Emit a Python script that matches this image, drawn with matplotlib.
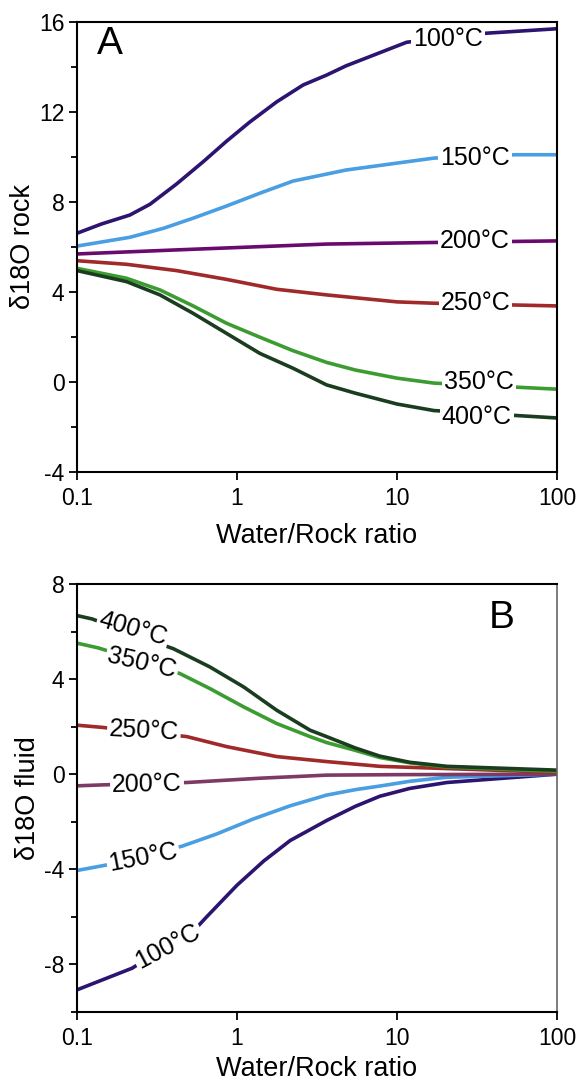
import matplotlib
matplotlib.use("Agg")
import matplotlib.pyplot as plt
from matplotlib.ticker import FixedLocator, NullLocator

plt.rcParams["font.family"] = ["Liberation Sans", "DejaVu Sans"]
plt.rcParams["axes.unicode_minus"] = False

temps = ["100°C", "150°C", "200°C", "250°C", "350°C", "400°C"]
colors_a = ["#2c1470", "#4a9ee2", "#6a0a6e", "#a02a2a", "#3c9c32", "#1b3d1f"]
colors_b = ["#2c1470", "#4a9ee2", "#7d3a64", "#a02a2a", "#3c9c32", "#1b3d1f"]

# Panel A: rock d18O vs water/rock ratio
rock_x = {
    "100°C": [0.1, 0.142, 0.214, 0.286, 0.419, 0.615, 0.86, 1.2, 1.77, 2.59, 3.63, 4.8, 11.5, 36, 100],
    "150°C": [0.1, 0.214, 0.347, 0.532, 0.86, 1.39, 2.24, 3.63, 4.8, 17, 55, 100],
    "200°C": [0.1, 0.419, 3.63, 17, 100],
    "250°C": [0.1, 0.204, 0.419, 0.86, 1.77, 3.63, 10, 17, 100],
    "350°C": [0.1, 0.204, 0.33, 0.532, 0.86, 1.39, 2.24, 3.63, 5.5, 10, 17, 100],
    "400°C": [0.1, 0.204, 0.33, 0.532, 0.86, 1.39, 2.24, 3.63, 5.5, 10, 17, 100],
}
rock_y = {
    "100°C": [6.61, 7.02, 7.42, 7.9, 8.8, 9.79, 10.7, 11.55, 12.45, 13.2, 13.64, 14.05, 15.1, 15.5, 15.7],
    "150°C": [6.04, 6.43, 6.83, 7.28, 7.82, 8.39, 8.93, 9.24, 9.42, 9.95, 10.1, 10.1],
    "200°C": [5.69, 5.87, 6.13, 6.2, 6.27],
    "250°C": [5.39, 5.23, 4.95, 4.56, 4.12, 3.87, 3.56, 3.5, 3.38],
    "350°C": [5.05, 4.61, 4.09, 3.38, 2.61, 1.99, 1.39, 0.87, 0.53, 0.17, -0.05, -0.32],
    "400°C": [4.95, 4.46, 3.87, 3.05, 2.16, 1.27, 0.61, -0.13, -0.5, -0.98, -1.27, -1.6],
}

# Panel B: fluid d18O vs water/rock ratio
fluid_x = {
    "100°C": [0.1, 0.221, 0.56, 0.646, 1.0, 1.47, 2.15, 3.63, 5.5, 7.8, 12, 20.5, 100],
    "150°C": [0.1, 0.15, 0.453, 0.75, 1.27, 2.15, 3.63, 5.5, 7.8, 12, 20.5, 100],
    "200°C": [0.1, 0.145, 0.486, 1.39, 3.63, 10, 100],
    "250°C": [0.1, 0.143, 0.486, 0.86, 1.77, 3.63, 7.8, 100],
    "350°C": [0.1, 0.136, 0.44, 0.677, 1.1, 1.77, 2.86, 3.63, 5.5, 7.8, 12, 20.5, 100],
    "400°C": [0.1, 0.124, 0.402, 0.677, 1.1, 1.77, 2.86, 3.63, 5.5, 7.8, 12, 20.5, 100],
}
fluid_y = {
    "100°C": [-9.07, -8.16, -6.45, -6.0, -4.67, -3.65, -2.79, -1.95, -1.35, -0.93, -0.6, -0.35, 0.0],
    "150°C": [-4.05, -3.83, -3.03, -2.51, -1.88, -1.33, -0.88, -0.65, -0.5, -0.3, -0.13, 0.0],
    "200°C": [-0.49, -0.45, -0.35, -0.17, -0.04, -0.02, 0.0],
    "250°C": [2.06, 1.97, 1.58, 1.16, 0.74, 0.53, 0.33, 0.08],
    "350°C": [5.51, 5.31, 4.23, 3.6, 2.83, 2.13, 1.58, 1.33, 1.0, 0.7, 0.48, 0.3, 0.12],
    "400°C": [6.67, 6.53, 5.27, 4.51, 3.67, 2.69, 1.85, 1.58, 1.1, 0.76, 0.5, 0.33, 0.17],
}

xticks = [0.1, 1, 10, 100]
xticklabels = ["0.1", "1", "10", "100"]


def style_axes(ax, ymin, ymax, ymajor, xlabelpad):
    ax.set_xscale("log")
    ax.set_xlim(0.1, 100)
    ax.set_ylim(ymin, ymax)
    ax.xaxis.set_major_locator(FixedLocator(xticks))
    ax.xaxis.set_minor_locator(NullLocator())
    ax.set_xticklabels(xticklabels)
    ax.yaxis.set_major_locator(FixedLocator(ymajor))
    ax.yaxis.set_minor_locator(FixedLocator(list(range(ymin, ymax + 1, 2))))
    ax.set_yticklabels([str(v) for v in ymajor])
    ax.tick_params(which="major", length=6, width=1.3, labelsize=16.5, pad=3)
    ax.tick_params(which="minor", length=4, width=1.3)
    ax.tick_params(axis="x", pad=5)
    for s in ax.spines.values():
        s.set_linewidth(1.5)
    ax.set_xlabel("Water/Rock ratio", fontsize=19.5, labelpad=xlabelpad)


fig = plt.figure(figsize=(5.79, 10.83), dpi=100)
ax_a = fig.add_axes([0.133, 0.5642, 0.829, 0.4155])
ax_b = fig.add_axes([0.133, 0.0656, 0.829, 0.3952])

# --- Panel A ---
style_axes(ax_a, -4, 16, [-4, 0, 4, 8, 12, 16], 9)
label_pos_a = {
    "100°C": (20.9, 15.24),
    "150°C": (30.7, 9.96),
    "200°C": (30.7, 6.27),
    "250°C": (31, 3.51),
    "350°C": (32.5, 0.0),
    "400°C": (31.5, -1.56),
}
for t, c in zip(temps, colors_a):
    ax_a.plot(rock_x[t], rock_y[t], color=c, lw=2.6, solid_capstyle="butt")
    lx, ly = label_pos_a[t]
    ax_a.text(lx, ly, t, fontsize=18, ha="center", va="center",
              bbox=dict(facecolor="white", edgecolor="none", pad=1.5))
ax_a.text(0.042, 0.95, "A", transform=ax_a.transAxes, fontsize=28,
          ha="left", va="center")
ax_a.set_ylabel("δ18O rock", fontsize=19.5, labelpad=2)

# --- Panel B ---
style_axes(ax_b, -10, 8, [-8, -4, 0, 4, 8], 4)
ax_b.spines["right"].set_color("#666666")
ax_b.spines["right"].set_linewidth(1.2)
label_pos_b = {
    "400°C": (0.224, 6.11, -16),
    "350°C": (0.255, 4.69, -13),
    "250°C": (0.262, 1.84, -3),
    "200°C": (0.274, -0.42, 1),
    "150°C": (0.259, -3.51, 11),
    "100°C": (0.371, -7.24, 28),
}
for t, c in zip(temps, colors_b):
    ax_b.plot(fluid_x[t], fluid_y[t], color=c, lw=2.6, solid_capstyle="butt")
    lx, ly, rot = label_pos_b[t]
    ax_b.text(lx, ly, t, fontsize=18, ha="center", va="center",
              rotation=rot, rotation_mode="anchor",
              bbox=dict(facecolor="white", edgecolor="none", pad=1.5))
ax_b.text(0.885, 0.92, "B", transform=ax_b.transAxes, fontsize=28,
          ha="center", va="center")
ax_b.set_ylabel("δ18O fluid", fontsize=19.5, labelpad=2)

fig.savefig("out.png", dpi=100)
